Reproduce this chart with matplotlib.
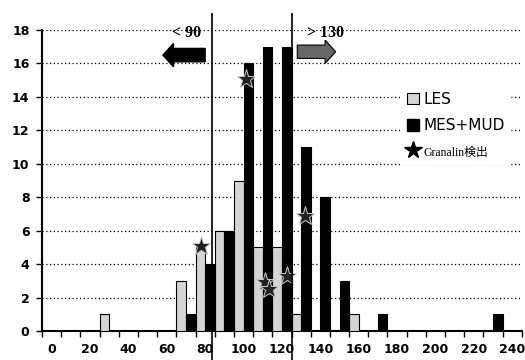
import matplotlib
matplotlib.use("Agg")
import matplotlib.pyplot as plt
import matplotlib.patches as mpatches
from matplotlib.lines import Line2D
import numpy as np

# bins (category centres) and counts
bins = np.arange(0, 250, 10)
les = [0, 0, 0, 1, 0, 0, 0, 3, 5, 6, 9, 5, 5, 1, 0, 0, 1, 0, 0, 0, 0, 0, 0, 0, 0]
mes_mud = [0, 0, 0, 0, 0, 0, 0, 1, 4, 6, 16, 17, 17, 11, 8, 3, 0, 1, 0, 0, 0, 0, 0, 1, 0]

# Granalin detections (stars)
gran_x = [78, 101.3, 111, 113.3, 122.8, 132]
gran_y = [5.1, 15.1, 2.95, 2.5, 3.3, 6.9]

xticks = np.arange(0, 250, 20)
yticks = np.arange(0, 20, 2)
cut_lo = 83.5
cut_hi = 125

fig = plt.figure(figsize=(5.25, 3.6), dpi=100)
ax = fig.add_axes([0.08, 0.0806, 0.914, 0.836])

ax.bar(bins - 2.5, les, width=5, color='#d4d4d4', edgecolor='black', linewidth=0.8, zorder=3)
ax.bar(bins + 2.5, mes_mud, width=5, color='black', edgecolor='black', linewidth=0.8, zorder=3)
ax.plot(gran_x, gran_y, linestyle='none', marker='*', markersize=14,
        markerfacecolor='#222222', markeredgecolor='#cccccc', markeredgewidth=0.7, zorder=4)

# cut-off lines
ax.vlines([cut_lo, cut_hi], -1.75, 19.0, colors='black', linewidth=1.2, clip_on=False, zorder=5)

# arrows + labels
ax.add_patch(mpatches.FancyArrow(80, 16.5, -22, 0, width=0.8, head_width=1.4, head_length=5.5,
                                 length_includes_head=True, color='black', zorder=5))
ax.add_patch(mpatches.FancyArrow(128, 16.7, 20, 0, width=0.8, head_width=1.4, head_length=5.5,
                                 length_includes_head=True, facecolor='#666666', edgecolor='black',
                                 linewidth=0.8, zorder=5))
ax.text(70.5, 17.8, '< 90', fontsize=11.5, fontweight='bold', family='Liberation Serif',
        ha='center', va='center')
ax.text(142.5, 17.8, '> 130', fontsize=11.5, fontweight='bold', family='Liberation Serif',
        ha='center', va='center')

ax.set_xlim(-5, 245)
ax.set_ylim(0, 18)
ax.set_xticks(xticks)
ax.set_xticks(np.arange(-5, 250, 10), minor=True)
ax.set_yticks(yticks)
ax.tick_params(axis='x', which='major', length=0, pad=9, labelsize=9)
ax.tick_params(axis='x', which='minor', length=4, width=1, direction='out')
ax.tick_params(axis='y', length=4, width=1, direction='out', labelsize=9, pad=5)
for lab in ax.get_yticklabels() + ax.get_xticklabels():
    lab.set_fontweight('bold')

ax.grid(axis='y', color='black', linestyle=(0, (1, 2)), linewidth=0.9, zorder=1)
ax.spines['top'].set_visible(False)
ax.spines['right'].set_visible(False)
ax.spines['left'].set_linewidth(1.5)
ax.spines['bottom'].set_linewidth(1.5)

handles = [mpatches.Patch(facecolor='#d4d4d4', edgecolor='black', linewidth=0.8),
           mpatches.Patch(facecolor='black', edgecolor='black'),
           Line2D([], [], linestyle='none', marker='*', markersize=13, color='black')]
leg = ax.legend(handles, ['LES', 'MES+MUD', 'Granalin検出'], loc='upper left',
                bbox_to_anchor=(0.735, 0.835), frameon=True, fancybox=False, framealpha=1,
                edgecolor='white', facecolor='white', fontsize=11, handlelength=0.8,
                handleheight=0.8, handletextpad=0.3, labelspacing=0.75, borderpad=0.3)
leg.set_zorder(6)
leg.get_texts()[2].set_fontfamily(['Liberation Serif', 'Noto Sans CJK JP'])
leg.get_texts()[2].set_fontsize(8.5)

fig.savefig('out.png', dpi=100)
